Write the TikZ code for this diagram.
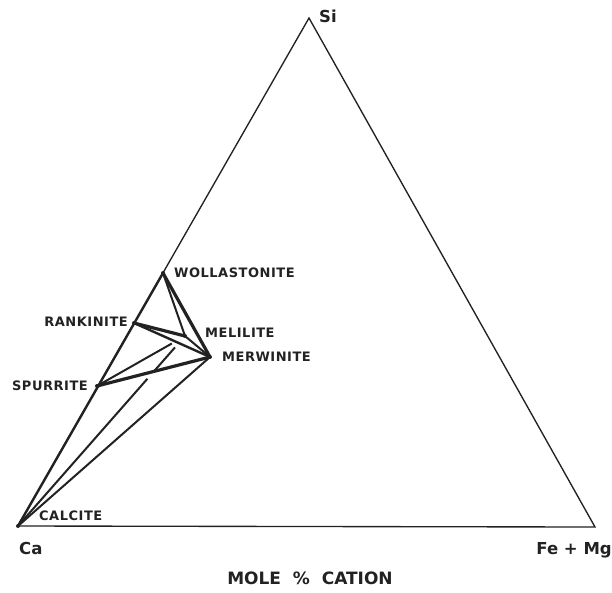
\documentclass[tikz,border=0pt]{standalone}
\usepackage{fontspec}
\setmainfont{DejaVu Sans}
\newfontfamily\lblfont{DejaVu Sans}[LetterSpace=4.0]
\usetikzlibrary{calc}
\definecolor{ink}{HTML}{222222}
\begin{document}
\begin{tikzpicture}[x=1pt,y=-1pt,
  edge/.style={line width=1.35pt, draw=ink},
  tie/.style={line width=2.0pt, draw=ink},
  heavytie/.style={line width=3.2pt, draw=ink},
  midtie/.style={line width=2.4pt, draw=ink},
  lbl/.style={font=\lblfont\fontsize{13}{15}\selectfont\bfseries, text=ink, inner sep=0pt, text depth=0pt},
  corner/.style={font=\fontsize{16.5}{18}\selectfont\bfseries, text=ink, inner sep=0pt, text depth=0pt},
  axislbl/.style={font=\fontsize{17}{19}\selectfont\bfseries, text=ink, inner sep=0pt, text depth=0pt},
  dot/.style={fill=ink}
]
\useasboundingbox (0,0) rectangle (612,592);
% vertices
\coordinate (Ca) at (18,526);
\coordinate (FM) at (595,527);
\coordinate (Si) at (309,18);
\coordinate (Wo) at (163,273);
\coordinate (Ra) at (134,323);
\coordinate (Me) at (185,336);
\coordinate (Mw) at (210,357);
\coordinate (Sp) at (97,386);
% triangle
\draw[edge, line join=miter] (Ca) -- (Si) -- (FM) -- cycle;
% tie lines
\draw[midtie] (Ca) -- (Wo);
\draw[heavytie] (Wo) -- (Mw);
\draw[tie] (Wo) -- (Me);
\draw[heavytie] (Ra) -- (Me);
\draw[midtie] (Ra) -- (Mw);
\draw[tie] (Me) -- (Mw);
\draw[heavytie] (Sp) -- (Mw);
\draw[tie] (Ca) -- (Mw);
\draw[tie] (Sp) -- ($(Sp)!0.85!(Me)$);
\draw[tie] (Ca) -- ($(Ca)!0.775!(Me)$);
\draw[tie] ($(Ca)!0.812!(Me)$) -- ($(Ca)!0.94!(Me)$);
% dots
\foreach \p in {Ca,Wo,Ra,Me,Mw,Sp}{\fill[dot] (\p) circle (2pt);}
% labels
\node[corner, anchor=west] (lSi) at (319,16) {Si};
\node[lbl, anchor=west] (lWo) at (174,273) {WOLLASTONITE};
\node[lbl, anchor=east] (lRa) at (128,322) {RANKINITE};
\node[lbl, anchor=west] (lMe) at (205,333) {MELILITE};
\node[lbl, anchor=west] (lMw) at (222,357) {MERWINITE};
\node[lbl, anchor=east] (lSp) at (88,386) {SPURRITE};
\node[lbl, anchor=west] (lCc) at (39,516) {CALCITE};
\node[corner, anchor=west] (lCa) at (19,548) {Ca};
\node[corner, anchor=east] (lFM) at (612,548) {Fe + Mg};
\node[axislbl] (lX) at (310,578) {MOLE \ \% \ CATION};
\end{tikzpicture}
\end{document}
